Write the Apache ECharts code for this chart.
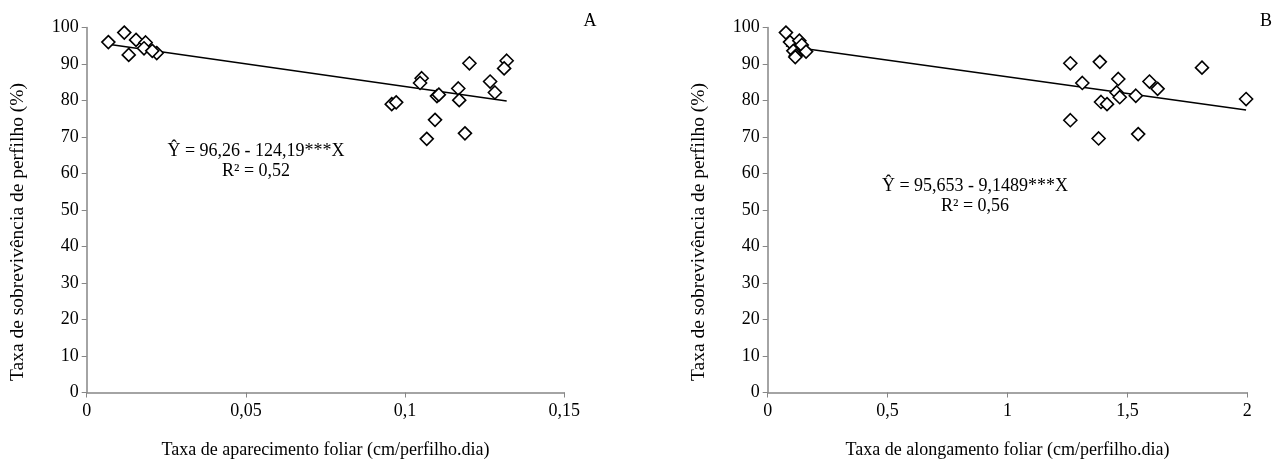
<!DOCTYPE html>
<html><head><meta charset="utf-8">
<script src="https://cdn.jsdelivr.net/npm/echarts@6/dist/echarts.min.js"></script>
<style>html,body{margin:0;padding:0;background:#fff}#c{width:1280px;height:466px}</style>
</head><body><div id="c"></div>
<script>
// Panel A: leaf appearance rate vs tiller survival
const pointsA = [
  [0.0068,96.0],[0.0118,98.6],[0.0132,92.5],[0.0155,96.6],[0.0185,95.9],[0.0180,94.3],[0.0220,93.0],[0.0206,93.6],
  [0.1202,90.2],[0.1319,90.9],[0.1311,88.8],[0.1052,86.1],[0.1047,84.8],[0.1267,85.2],[0.1167,83.3],
  [0.1282,82.2],[0.1100,81.2],[0.1106,81.6],[0.1170,80.1],[0.0958,79.0],[0.0972,79.5],[0.1094,74.7],
  [0.1188,71.0],[0.1068,69.5]
];
const trendA = [[0.0068,95.42],[0.1319,79.88]];
// Panel B: leaf elongation rate vs tiller survival
const pointsB = [
  [0.076,98.6],[0.093,96.0],[0.132,96.4],[0.142,95.2],[0.107,93.6],[0.118,92.3],[0.160,93.4],[0.115,91.9],
  [1.262,90.2],[1.312,84.8],[1.262,74.6],[1.385,90.6],[1.390,79.6],[1.380,69.6],[1.415,79.0],
  [1.462,85.9],[1.455,82.2],[1.468,80.9],[1.535,81.3],[1.545,70.8],[1.592,85.2],[1.626,83.2],
  [1.811,89.0],[1.995,80.4]
];
const trendB = [[0.076,94.96],[1.995,77.40]];
const yTicks = [0,10,20,30,40,50,60,70,80,90,100];
const xTicksA = ['0','0,05','0,1','0,15'];
const xTicksB = ['0','0,5','1','1,5','2'];
const yName = 'Taxa de sobrevivência de perfilho (%)';
const xNameA = 'Taxa de aparecimento foliar (cm/perfilho.dia)';
const xNameB = 'Taxa de alongamento foliar (cm/perfilho.dia)';

const FONT = '"Liberation Serif","Times New Roman",serif';
const AX = '#868686';
const chart = echarts.init(document.getElementById('c'), null, {renderer:'canvas'});

function xAxis(idx, max, interval, labels, name){
  return {
    type:'value', gridIndex:idx, min:0, max:max, interval:interval,
    name:name, nameLocation:'middle', nameGap:49,
    nameTextStyle:{fontFamily:FONT, fontSize:18, color:'#000'},
    axisLine:{show:true, onZero:false, lineStyle:{color:AX, width:1.5}},
    axisTick:{show:true, length:5, lineStyle:{color:AX, width:1}},
    axisLabel:{fontFamily:FONT, fontSize:18, color:'#000', margin:10,
      formatter:(v)=>labels[Math.round(v/interval)]},
    splitLine:{show:false}
  };
}
function yAxis(idx){
  return {
    type:'value', gridIndex:idx, min:0, max:100, interval:10,
    axisLine:{show:true, onZero:false, lineStyle:{color:AX, width:1.5}},
    axisTick:{show:true, length:5, lineStyle:{color:AX, width:1}},
    axisLabel:{fontFamily:FONT, fontSize:18, color:'#000', margin:8,
      formatter:(v)=>String(yTicks[Math.round(v/10)])},
    splitLine:{show:false}
  };
}
const marker = {symbol:'diamond', symbolSize:13,
  itemStyle:{color:'#fff', borderColor:'#000', borderWidth:1.6, opacity:1}};

chart.setOption({
  animation:false,
  backgroundColor:'#fff',
  grid:[
    {left:86.7, top:27.5, width:477.6, height:365},
    {left:767.7, top:27.5, width:479.6, height:365}
  ],
  xAxis:[xAxis(0,0.15,0.05,xTicksA,xNameA), xAxis(1,2,0.5,xTicksB,xNameB)],
  yAxis:[yAxis(0), yAxis(1)],
  series:[
    {type:'line', xAxisIndex:0, yAxisIndex:0, data:trendA, symbol:'none', lineStyle:{color:'#000', width:1.5}, z:1},
    Object.assign({type:'scatter', xAxisIndex:0, yAxisIndex:0, data:pointsA, z:2}, marker),
    {type:'line', xAxisIndex:1, yAxisIndex:1, data:trendB, symbol:'none', lineStyle:{color:'#000', width:1.5}, z:1},
    Object.assign({type:'scatter', xAxisIndex:1, yAxisIndex:1, data:pointsB, z:2}, marker)
  ],
  graphic:[
    {type:'text', x:18, y:232, rotation:Math.PI/2, style:{text:yName, font:'19.5px '+FONT, fill:'#000', align:'center', verticalAlign:'middle'}},
    {type:'text', x:699, y:232, rotation:Math.PI/2, style:{text:yName, font:'19.5px '+FONT, fill:'#000', align:'center', verticalAlign:'middle'}},
    {type:'text', x:590, y:21, style:{text:'A', font:'18px '+FONT, fill:'#000', align:'center', verticalAlign:'middle'}},
    {type:'text', x:1266, y:21, style:{text:'B', font:'18px '+FONT, fill:'#000', align:'center', verticalAlign:'middle'}},
    {type:'text', x:256, y:151, style:{text:'Ŷ = 96,26 - 124,19***X', font:'18px '+FONT, fill:'#000', align:'center', verticalAlign:'middle'}},
    {type:'text', x:256, y:171, style:{text:'R² = 0,52', font:'18px '+FONT, fill:'#000', align:'center', verticalAlign:'middle'}},
    {type:'text', x:975, y:186, style:{text:'Ŷ = 95,653 - 9,1489***X', font:'18px '+FONT, fill:'#000', align:'center', verticalAlign:'middle'}},
    {type:'text', x:975, y:206, style:{text:'R² = 0,56', font:'18px '+FONT, fill:'#000', align:'center', verticalAlign:'middle'}}
  ]
});
</script></body></html>
